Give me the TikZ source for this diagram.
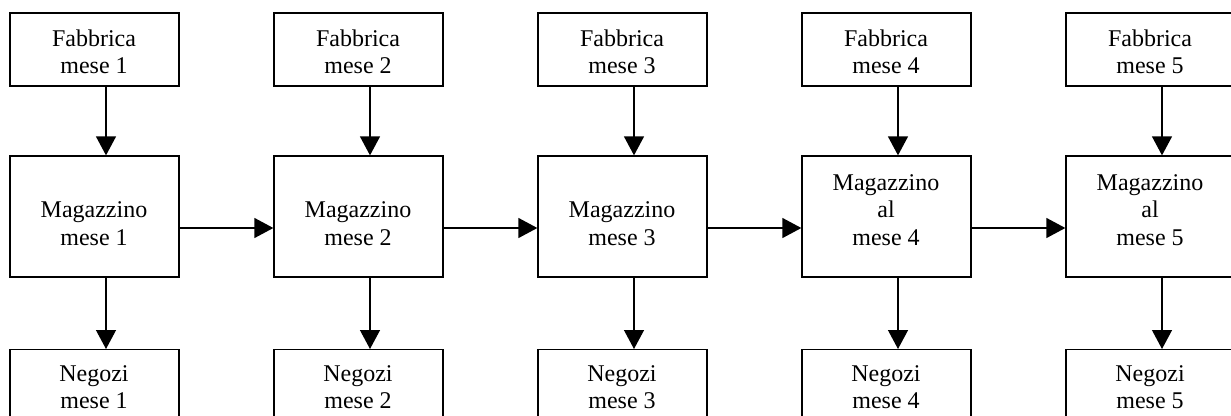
\documentclass[tikz,border=0pt]{standalone}
\usepackage{fontspec}
\setmainfont{Liberation Serif}
\usetikzlibrary{arrows.meta}
\tikzset{
  box/.style={draw, line width=1.3pt, minimum width=169pt, inner sep=0pt},
  topbox/.style={box, minimum height=73pt},
  midbox/.style={box, minimum height=121pt},
  botbox/.style={box, minimum height=121pt},
  txt/.style={anchor=base, inner sep=0pt, font=\fontsize{24}{27}\selectfont},
  arr/.style={line width=1.3pt, -{Triangle[length=19pt,width=20pt]}}
}
\begin{document}
\begin{tikzpicture}[x=1pt,y=-1pt]
\useasboundingbox (0,0) rectangle (1231,415);
\clip (0,0) rectangle (1231,415);
\foreach \i in {1,...,5}{
  \pgfmathsetmacro{\cx}{94.5+264*(\i-1)}
  \node[topbox] (f\i) at (\cx,49.5) {};
  \node[midbox] (m\i) at (\cx,216.5) {};
  \node[botbox, anchor=north] (n\i) at (\cx,349) {};
  \node[txt] at (\cx-0.5,46) {Fabbrica};
  \node[txt] at (\cx-0.5,73) {mese \i};
  \node[txt] at (\cx-0.5,381) {Negozi};
  \node[txt] at (\cx-0.5,408) {mese \i};
  \draw[arr] ([xshift=11.5pt]f\i.south) -- ([xshift=11.5pt]m\i.north);
  \draw[arr] ([xshift=11.5pt]m\i.south) -- ([xshift=11.5pt]n\i.north);
}
\foreach \i in {1,2,3}{
  \pgfmathsetmacro{\cx}{94.5+264*(\i-1)}
  \node[txt] at (\cx-0.5,217) {Magazzino};
  \node[txt] at (\cx-0.5,245) {mese \i};
}
\foreach \i in {4,5}{
  \pgfmathsetmacro{\cx}{94.5+264*(\i-1)}
  \node[txt] at (\cx-0.5,190) {Magazzino};
  \node[txt] at (\cx-0.5,217) {al};
  \node[txt] at (\cx-0.5,245) {mese \i};
}
\foreach \i/\j in {1/2,2/3,3/4,4/5}{
  \draw[arr] ([yshift=-11.5pt]m\i.east) -- ([yshift=-11.5pt]m\j.west);
}
\end{tikzpicture}
\end{document}
